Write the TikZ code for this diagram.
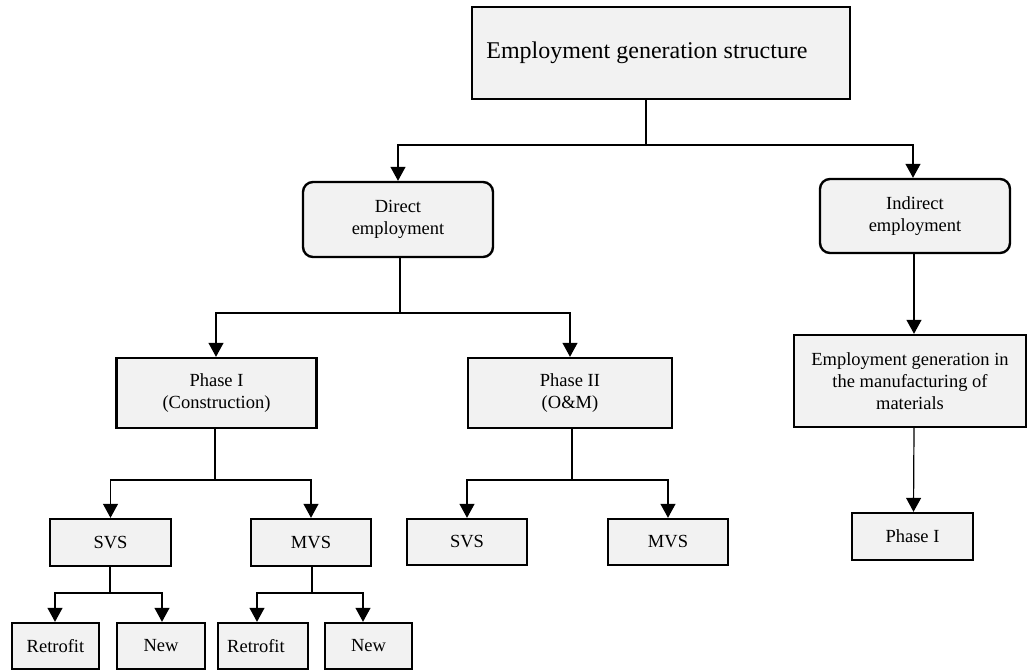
\documentclass[tikz,border=0pt]{standalone}
\usepackage{fontspec}
\setmainfont{Liberation Serif}
\usetikzlibrary{arrows.meta}
\definecolor{boxfill}{HTML}{F2F2F2}
\begin{document}
\begin{tikzpicture}[x=1pt,y=-1pt,
  box/.style={draw=black,line width=2.4pt,fill=boxfill,inner sep=0pt,align=center,
    font=\fontsize{18.5}{22}\selectfont},
  rbox/.style={box,rounded corners=10pt},
  conn/.style={line width=1.2pt},
  arr/.style={conn,-{Triangle[length=14pt,width=15pt]}}]
\useasboundingbox (0,0) rectangle (1028,670);
% nodes
\node[box,minimum width=378pt,minimum height=92pt,font=\fontsize{24}{28}\selectfont] (top) at (661,53) {\hspace*{-28pt}Employment generation structure};
\node[rbox,minimum width=190pt,minimum height=75pt] (direct) at (398,219.5) {Direct\\employment};
\node[rbox,minimum width=190pt,minimum height=74pt] (indirect) at (915,216) {Indirect\\employment};
\node[box,minimum width=200pt,minimum height=70pt] (ph1) at (216.5,393) {Phase I\\(Construction)};
\node[box,minimum width=204pt,minimum height=70pt] (ph2) at (570,393) {Phase II\\(O\&M)};
\node[box,minimum width=232pt,minimum height=92pt] (manu) at (910,381) {Employment generation in\\the manufacturing of\\materials};
\node[box,minimum width=121pt,minimum height=47pt] (svs1) at (110.5,542.5) {SVS};
\node[box,minimum width=120pt,minimum height=47pt] (mvs1) at (311,542.5) {MVS};
\node[box,minimum width=120pt,minimum height=46pt] (svs2) at (467,542) {SVS};
\node[box,minimum width=120pt,minimum height=46pt] (mvs2) at (668,542) {MVS};
\node[box,minimum width=121pt,minimum height=47pt] (phr) at (912.5,536.5) {Phase I};
\node[box,minimum width=87pt,minimum height=46pt] (r1) at (55.5,646) {Retrofit};
\node[box,minimum width=88pt,minimum height=46pt] (n1) at (161,646) {New};
\node[box,minimum width=90pt,minimum height=46pt] (r2) at (263,646) {\hspace*{-14pt}Retrofit};
\node[box,minimum width=87pt,minimum height=46pt] (n2) at (368.5,646) {New};
% junction coordinates
\coordinate (j0) at (646,145);
\coordinate (j1) at (400,313);
\coordinate (j2) at (215,480);
\coordinate (j3) at (572,480);
\coordinate (j4) at (110,593);
\coordinate (j5) at (312,593);
\coordinate (a1) at (216,313);
\coordinate (a2) at (55,593);
\coordinate (a3) at (162,593);
\coordinate (a4) at (257,593);
\coordinate (a5) at (363,593);
% connectors
\draw[conn] (j0 |- top.south) -- (j0);
\draw[arr] (j0) -| (direct.north);
\draw[arr] (j0) -| ([xshift=-2pt]indirect.north);
\draw[conn] (j1 |- direct.south) -- (j1);
\draw[arr] (j1) -- (a1) -- (a1 |- ph1.north);
\draw[arr] (j1) -| (ph2.north);
\draw[arr] ([xshift=-1pt]indirect.south) -- ([xshift=4pt]manu.north);
\draw[arr] ([xshift=4pt]manu.south) -- ([xshift=1pt]phr.north);
\draw[conn] (j2 |- ph1.south) -- (j2);
\draw[arr] (j2) -| (svs1.north);
\draw[arr] (j2) -| (mvs1.north);
\draw[conn] (j3 |- ph2.south) -- (j3);
\draw[arr] (j3) -| (svs2.north);
\draw[arr] (j3) -| (mvs2.north);
\draw[conn] (j4 |- svs1.south) -- (j4);
\draw[arr] (j4) -- (a2) -- (a2 |- r1.north);
\draw[arr] (j4) -- (a3) -- (a3 |- n1.north);
\draw[conn] (j5 |- mvs1.south) -- (j5);
\draw[arr] (j5) -- (a4) -- (a4 |- r2.north);
\draw[arr] (j5) -- (a5) -- (a5 |- n2.north);
\end{tikzpicture}
\end{document}
